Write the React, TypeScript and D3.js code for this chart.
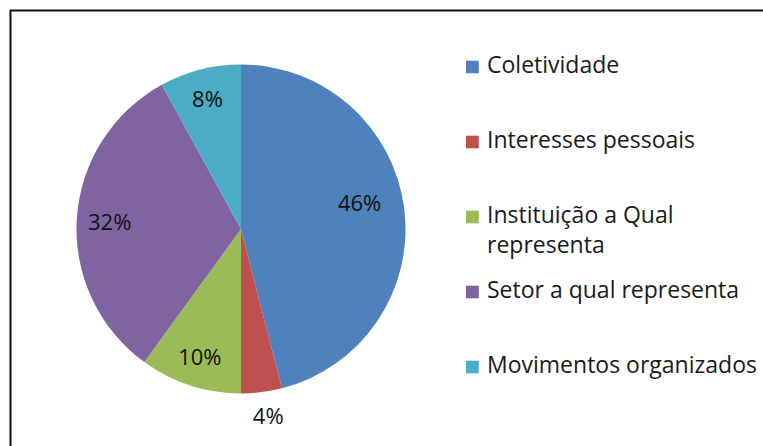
import React from "react";
import * as d3 from "d3";

const categories = [
  "Coletividade",
  "Interesses pessoais",
  "Instituição a Qual representa",
  "Setor a qual representa",
  "Movimentos organizados",
];
const values = [46, 4, 10, 32, 8];
const percentLabels = ["46%", "4%", "10%", "32%", "8%"];
const legendLines = [
  ["Coletividade"],
  ["Interesses pessoais"],
  ["Instituição a Qual", "representa"],
  ["Setor a qual representa"],
  ["Movimentos organizados"],
];
const colors = ["#4F81BD", "#C0504D", "#9BBB59", "#8064A2", "#4BACC6"];

const W = 763;
const H = 446;
const CX = 241;
const CY = 229;
const R = 164.5;
const FONT = "'Open Sans', Lato, sans-serif";
// label placement tweaks (Excel "best fit")
const labelRadius = [0.74, 1.14, 0.81, 0.8, 0.82];
const labelAngleShift = [-0.1, -0.02, 0, 0, 0];

export default function App() {
  const pie = d3
    .pie<number>()
    .sort(null)
    .startAngle(0)
    .endAngle(2 * Math.PI)
    .value((d) => d);
  const arcs = pie(values);
  const arcGen = d3.arc<d3.PieArcDatum<number>>().innerRadius(0).outerRadius(R);
  const color = d3.scaleOrdinal<string, string>().domain(categories).range(colors);

  const legendX = 466;
  const legendY0 = 73.3;
  const legendStep = 75;
  const lineH = 30;

  return (
    <svg
      width={W}
      height={H}
      style={{ position: "absolute", left: 0, top: 0, background: "#fff" }}
    >
      <rect x={0} y={0} width={W} height={H} fill="#fff" />
      <rect
        x={10.5}
        y={10.5}
        width={W + 20}
        height={H + 20}
        fill="none"
        stroke="#111"
        strokeWidth={2}
      />
      <g transform={`translate(${CX},${CY})`}>
        {arcs.map((a, i) => (
          <path key={i} d={arcGen(a) || ""} fill={color(categories[i])} />
        ))}
        {arcs.map((a, i) => {
          const mid = (a.startAngle + a.endAngle) / 2 + labelAngleShift[i];
          const d = R * labelRadius[i];
          const x = Math.sin(mid) * d;
          const y = -Math.cos(mid) * d;
          return (
            <text
              key={"l" + i}
              x={x}
              y={y}
              textAnchor="middle"
              dominantBaseline="central"
              fontFamily={FONT}
              fontSize={22}
              fill="#111"
            >
              {percentLabels[i]}
            </text>
          );
        })}
      </g>
      <g>
        {legendLines.map((lines, i) => {
          const by = legendY0 + i * legendStep;
          return (
            <g key={"lg" + i}>
              <rect
                x={legendX}
                y={by - 12.6}
                width={12.8}
                height={12.6}
                fill={color(categories[i])}
              />
              {lines.map((t, j) => (
                <text
                  key={j}
                  x={487}
                  y={by + j * lineH}
                  fontFamily={FONT}
                  fontSize={23}
                  fill="#1a1a1a"
                >
                  {t}
                </text>
              ))}
            </g>
          );
        })}
      </g>
    </svg>
  );
}
